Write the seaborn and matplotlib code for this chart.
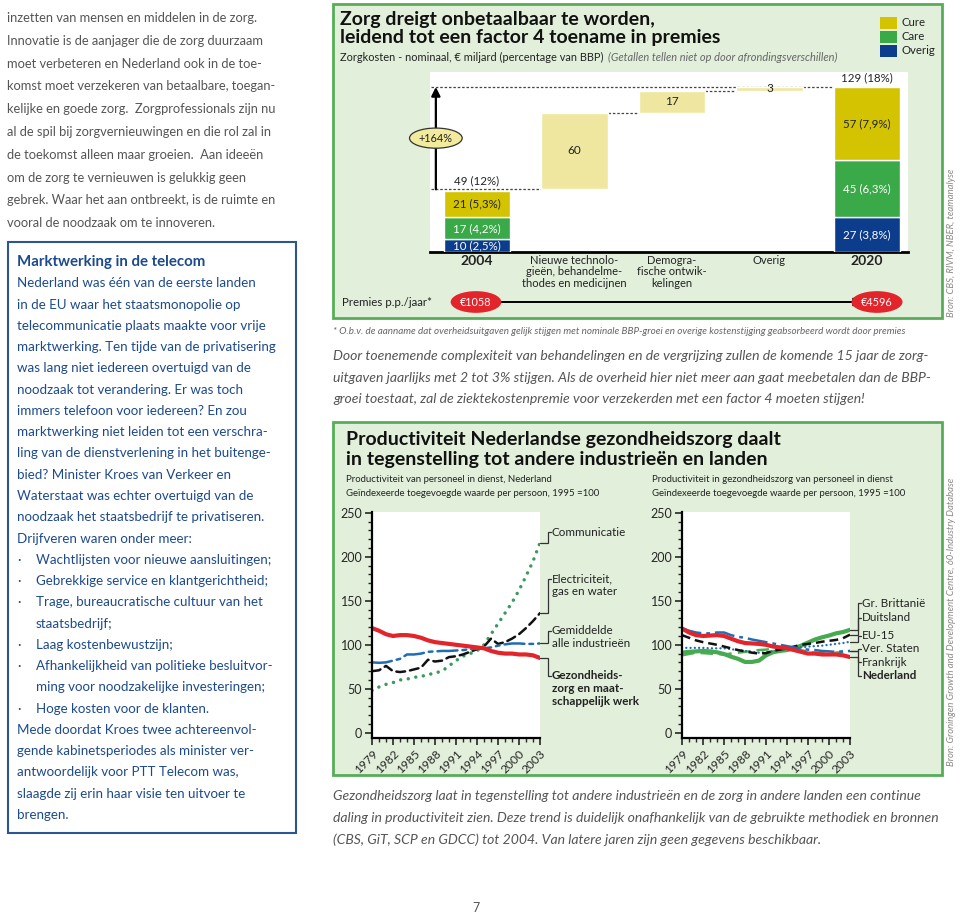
import matplotlib
matplotlib.use("Agg")
import numpy as np
import pandas as pd
import matplotlib.pyplot as plt
from matplotlib.patches import Rectangle
import seaborn as sns

# ---------------- data ----------------
wf_categories = ["2004", "Nieuwe technolo-\ngieën, behandelme-\nthodes en medicijnen",
                 "Demogra-\nfische ontwik-\nkelingen", "Overig", "2020"]
parts = ["Overig", "Care", "Cure"]
start_values = [10, 17, 21]
start_labels = ["10 (2,5%)", "17 (4,2%)", "21 (5,3%)"]
start_total = 49
start_total_label = "49 (12%)"
step_values = [60, 17, 3]
end_values = [27, 45, 57]
end_labels = ["27 (3,8%)", "45 (6,3%)", "57 (7,9%)"]
end_total = 129
end_total_label = "129 (18%)"
growth_label = "+164%"
premium_start = "€1058"
premium_end = "€4596"

years = list(range(1979, 2004))
zorg_nl = [119, 116, 112, 110, 111, 111, 110, 108, 105, 103, 102, 101, 100,
           99, 98, 97, 96, 93, 91, 90, 90, 89, 89, 88, 85]
gemiddelde = [80, 79.5, 80, 82, 84, 89, 89, 90, 92, 92.5, 93, 93, 93.5,
              94, 95, 95.5, 96, 97, 99, 100.5, 101.5, 101.5, 101, 101, 101.5]
electriciteit = [70, 71, 76, 70, 69, 70, 72, 74, 83, 81, 82, 86, 87,
                 89, 92, 95, 98, 107, 101, 103, 107, 112, 119, 127, 136]
communicatie = [48, 52, 55, 57, 60, 61, 63, 64, 66, 68, 70, 76, 82,
                87, 90, 93, 100, 112, 124, 136, 148, 162, 178, 195, 216]

nederland = [118.5, 114, 111, 110, 110.5, 111, 110, 107, 104, 102, 101.5, 101, 100,
             98, 97, 96, 94, 92, 90, 90, 89, 89, 89, 88, 86]
gr_brittannie = [91, 92, 92.5, 93, 92.5, 91.5, 89.5, 86.5, 84, 80.5, 80.5, 82, 88,
                 91.5, 93, 94, 96, 99, 102.5, 106, 108.5, 110.5, 113, 114.5, 117]
duitsland = [111, 108, 105, 103, 101.5, 100, 98, 96, 94, 92.5, 91, 90, 90.5,
             93, 94.5, 96, 98, 100, 101, 102, 103.5, 104.5, 105.5, 107.5, 111.5]
eu15 = [96.5, 96.5, 96.5, 96.5, 96, 96, 96, 95, 94, 93, 92, 91, 91.5,
        93, 94, 95.5, 96.5, 97, 98, 98.5, 99, 100, 101, 102, 103.5]
ver_staten = [119, 116, 114, 113, 113, 114, 114, 111, 109, 108, 106, 104.5, 103,
              101.5, 100, 98.5, 97, 95.5, 94.5, 94, 93, 92.5, 92, 92.5, 93]
frankrijk = [88, 89.5, 91, 90.5, 90, 89.5, 89, 90, 91, 92, 93, 94, 94.5,
             95.5, 96, 96.5, 96, 94, 92, 91, 90.5, 90, 91, 92, 93]

intro_lines = [
    "inzetten van mensen en middelen in de zorg.",
    "Innovatie is de aanjager die de zorg duurzaam",
    "moet verbeteren en Nederland ook in de toe-",
    "komst moet verzekeren van betaalbare, toegan-",
    "kelijke en goede zorg.  Zorgprofessionals zijn nu",
    "al de spil bij zorgvernieuwingen en die rol zal in",
    "de toekomst alleen maar groeien.  Aan ideeën",
    "om de zorg te vernieuwen is gelukkig geen",
    "gebrek. Waar het aan ontbreekt, is de ruimte en",
    "vooral de noodzaak om te innoveren.",
]
box_lines = [
    ("", "Nederland was één van de eerste landen"),
    ("", "in de EU waar het staatsmonopolie op"),
    ("", "telecommunicatie plaats maakte voor vrije"),
    ("", "marktwerking. Ten tijde van de privatisering"),
    ("", "was lang niet iedereen overtuigd van de"),
    ("", "noodzaak tot verandering. Er was toch"),
    ("", "immers telefoon voor iedereen? En zou"),
    ("", "marktwerking niet leiden tot een verschra-"),
    ("", "ling van de dienstverlening in het buitenge-"),
    ("", "bied? Minister Kroes van Verkeer en"),
    ("", "Waterstaat was echter overtuigd van de"),
    ("", "noodzaak het staatsbedrijf te privatiseren."),
    ("", "Drijfveren waren onder meer:"),
    ("·", "Wachtlijsten voor nieuwe aansluitingen;"),
    ("·", "Gebrekkige service en klantgerichtheid;"),
    ("·", "Trage, bureaucratische cultuur van het"),
    (" ", "staatsbedrijf;"),
    ("·", "Laag kostenbewustzijn;"),
    ("·", "Afhankelijkheid van politieke besluitvor-"),
    (" ", "ming voor noodzakelijke investeringen;"),
    ("·", "Hoge kosten voor de klanten."),
    ("", "Mede doordat Kroes twee achtereenvol-"),
    ("", "gende kabinetsperiodes als minister ver-"),
    ("", "antwoordelijk voor PTT Telecom was,"),
    ("", "slaagde zij erin haar visie ten uitvoer te"),
    ("", "brengen."),
]
para_lines = [
    "Door toenemende complexiteit van behandelingen en de vergrijzing zullen de komende 15 jaar de zorg-",
    "uitgaven jaarlijks met 2 tot 3% stijgen. Als de overheid hier niet meer aan gaat meebetalen dan de BBP-",
    "groei toestaat, zal de ziektekostenpremie voor verzekerden met een factor 4 moeten stijgen!",
]
caption_lines = [
    "Gezondheidszorg laat in tegenstelling tot andere industrieën en de zorg in andere landen een continue",
    "daling in productiviteit zien. Deze trend is duidelijk onafhankelijk van de gebruikte methodiek en bronnen",
    "(CBS, GiT, SCP en GDCC) tot 2004. Van latere jaren zijn geen gegevens beschikbaar.",
]

# ---------------- style ----------------
sns.set_theme(style="ticks")
plt.rcParams["font.family"] = ["Lato", "DejaVu Sans"]

W, H = 960, 917
GRAY = "#555555"
BLUE_TXT = "#1d4a8c"
BOX_FILL = "#e2efda"
BOX_EDGE = "#57ad57"
PALE = "#efe7a0"
part_colors = {"Cure": "#d3c300", "Care": "#3aa947", "Overig": "#0c3d8c"}
part_text = {"Cure": "#222222", "Care": "white", "Overig": "white"}
RED = "#e3242b"
TITLE_FS = 14

fig = plt.figure(figsize=(W / 100, H / 100), dpi=100)
page = fig.add_axes([0, 0, 1, 1])
page.set_xlim(0, W)
page.set_ylim(H, 0)
page.axis("off")


def axes_px(x0, y0, x1, y1):
    return fig.add_axes([x0 / W, 1 - y1 / H, (x1 - x0) / W, (y1 - y0) / H])


# ---------------- left column ----------------
for i, line in enumerate(intro_lines):
    page.text(7, 18 + i * 22.8, line, va="center", fontsize=9.3, color=GRAY)

page.add_patch(Rectangle((8, 242), 288, 591, fc="white", ec="#2b5593", lw=1.5))
page.text(17, 262, "Marktwerking in de telecom", va="center", fontsize=10.8,
          fontweight="bold", color=BLUE_TXT)
for i, (bullet, line) in enumerate(box_lines):
    y = 262 + (i + 1) * 21.27
    if bullet:
        page.text(17, y, bullet.strip(), va="center", fontsize=9.6, color=BLUE_TXT)
        page.text(36, y, line, va="center", fontsize=9.6, color=BLUE_TXT)
    else:
        page.text(17, y, line, va="center", fontsize=9.6, color=BLUE_TXT)

# ---------------- top box: waterfall ----------------
page.add_patch(Rectangle((333, 4), 609, 314, fc=BOX_FILL, ec=BOX_EDGE, lw=2))
page.text(340, 20, "Zorg dreigt onbetaalbaar te worden,", va="center",
          fontsize=TITLE_FS, fontweight="bold", color="#111111")
page.text(340, 38, "leidend tot een factor 4 toename in premies", va="center",
          fontsize=TITLE_FS, fontweight="bold", color="#111111")
sub = page.text(340, 57, "Zorgkosten - nominaal, € miljard (percentage van BBP)",
                va="center", fontsize=7.9, color="#222222")
page.annotate("(Getallen tellen niet op door afrondingsverschillen)", xy=(1, 0.5),
              xycoords=sub, xytext=(3, 0), textcoords="offset points", va="center",
              fontsize=7.9, style="italic", color="#666666")

for i, p in enumerate(["Cure", "Care", "Overig"]):
    page.add_patch(Rectangle((880, 17 + i * 14), 17, 12, fc=part_colors[p], ec="none"))
    page.text(902, 23 + i * 14, p, va="center", fontsize=8.2, color="#222222")

page.text(952, 243, "Bron: CBS, RIVM, NBER, teamanalyse", rotation=90, ha="center",
          va="center", fontsize=6.8, style="italic", color="#8a8a8a")

ax = axes_px(430, 72, 908, 252)
ax.set_facecolor("white")
bw = 0.68
xs = np.arange(len(wf_categories))

bottom = 0
for p, v, lab in zip(parts, start_values, start_labels):
    ax.bar(xs[0], v, bottom=bottom, width=bw, color=part_colors[p], zorder=3)
    ax.text(xs[0], bottom + v / 2, lab, ha="center", va="center", fontsize=8.3,
            color=part_text[p], zorder=4)
    bottom += v
ax.text(xs[0], start_total + 2.5, start_total_label, ha="center", va="bottom",
        fontsize=8.3, color="#222222")

level = start_total
levels = [start_total]
for i, v in enumerate(step_values):
    ax.bar(xs[i + 1], v, bottom=level, width=bw, color=PALE, zorder=3)
    ax.text(xs[i + 1], level + v / 2, str(v), ha="center", va="center",
            fontsize=8.5, color="#222222", zorder=4)
    level += v
    levels.append(level)

bottom = 0
for p, v, lab in zip(parts, end_values, end_labels):
    ax.bar(xs[4], v, bottom=bottom, width=bw, color=part_colors[p], zorder=3)
    ax.text(xs[4], bottom + v / 2, lab, ha="center", va="center", fontsize=8.3,
            color=part_text[p], zorder=4)
    bottom += v
ax.text(xs[4], end_total + 2.5, end_total_label, ha="center", va="bottom",
        fontsize=8.3, color="#222222")

dot = dict(color="#444444", lw=0.9, linestyle=(0, (2, 1.5)), zorder=2)
ax.plot([-0.47, xs[1] - bw / 2], [levels[0]] * 2, **dot)
ax.plot([xs[1] + bw / 2, xs[2] - bw / 2], [levels[1]] * 2, **dot)
ax.plot([xs[2] + bw / 2, xs[3] - bw / 2], [levels[2]] * 2, **dot)
ax.plot([-0.47, xs[4] - bw / 2], [levels[3]] * 2, **dot)

ax.annotate("", xy=(-0.42, end_total), xytext=(-0.42, start_total),
            arrowprops=dict(arrowstyle="-|>", color="black", lw=1.6,
                            mutation_scale=13, shrinkA=0, shrinkB=0))
ax.text(-0.42, 89, growth_label, ha="center", va="center", fontsize=7.8,
        color="#222222", zorder=5,
        bbox=dict(boxstyle="ellipse,pad=0.15", fc="#f2ea9c", ec="#333333", lw=0.9))

ax.set_xlim(-0.48, 4.42)
ax.set_ylim(0, 140.7)
ax.set_yticks([])
ax.set_xticks(xs)
ax.set_xticklabels(wf_categories, fontsize=8, linespacing=1.05, color="#222222")
for t in ax.get_xticklabels():
    if t.get_text() in ("2004", "2020"):
        t.set_fontweight("bold")
        t.set_fontsize(10)
ax.tick_params(axis="x", length=0, pad=2)
for s in ["top", "right", "left"]:
    ax.spines[s].set_visible(False)
ax.spines["bottom"].set_linewidth(2)
ax.spines["bottom"].set_color("black")

page.text(342, 302, "Premies p.p./jaar*", va="center", fontsize=8.3, color="#222222")
page.annotate("", xy=(862, 302), xytext=(497, 302),
              arrowprops=dict(arrowstyle="-|>", color="black", lw=1.4,
                              mutation_scale=12, shrinkA=0, shrinkB=0))
for x, lab in [(476, premium_start), (877, premium_end)]:
    page.text(x, 302, lab, ha="center", va="center", fontsize=7.8, color="white",
              bbox=dict(boxstyle="ellipse,pad=0.2", fc=RED, ec="none"))

page.text(333, 331, "* O.b.v. de aanname dat overheidsuitgaven gelijk stijgen met nominale "
          "BBP-groei en overige kostenstijging geabsorbeerd wordt door premies",
          va="center", fontsize=7.1, style="italic", color="#666666")
for i, line in enumerate(para_lines):
    page.text(333, 356 + i * 21.5, line, va="center", fontsize=10.1,
              style="italic", color=GRAY)

# ---------------- bottom box: line charts ----------------
page.add_patch(Rectangle((333, 422), 609, 353, fc=BOX_FILL, ec=BOX_EDGE, lw=2))
page.text(346, 440, "Productiviteit Nederlandse gezondheidszorg daalt", va="center",
          fontsize=TITLE_FS, fontweight="bold", color="#111111")
page.text(346, 459, "in tegenstelling tot andere industrieën en landen", va="center",
          fontsize=TITLE_FS, fontweight="bold", color="#111111")
page.text(346, 480, "Productiviteit van personeel in dienst, Nederland", va="center",
          fontsize=6.9, color="#222222")
page.text(346, 493, "Geïndexeerde toegevoegde waarde per persoon, 1995 =100", va="center",
          fontsize=6.9, color="#222222")
page.text(652, 480, "Productiviteit in gezondheidszorg van personeel in dienst", va="center",
          fontsize=6.9, color="#222222")
page.text(652, 493, "Geïndexeerde toegevoegde waarde per persoon, 1995 =100", va="center",
          fontsize=6.9, color="#222222")
page.text(952, 622, "Bron: Groningen Growth and Development Centre, 60-Industry Database",
          rotation=90, ha="center", va="center", fontsize=6.8, style="italic",
          color="#8a8a8a")


def style_line_axes(a):
    a.set_facecolor("white")
    a.set_xlim(1979, 2003)
    a.set_ylim(-6, 251)
    a.set_yticks(range(0, 251, 50))
    a.set_yticks(range(0, 251, 10), minor=True)
    a.set_xticks(range(1979, 2004, 3))
    a.set_xticks(range(1979, 2004), minor=True)
    a.set_xticklabels([str(y) for y in range(1979, 2004, 3)], rotation=45,
                      ha="right", rotation_mode="anchor", fontsize=8.6)
    a.tick_params(axis="y", labelsize=9, length=5, width=1.2, pad=2)
    a.tick_params(axis="x", length=5, width=1.2, pad=2)
    a.tick_params(which="minor", length=3, width=1)
    for s in ["top", "right"]:
        a.spines[s].set_visible(False)
    for s in ["left", "bottom"]:
        a.spines[s].set_linewidth(1.6)
        a.spines[s].set_color("black")
    a.set_xlabel("")
    a.set_ylabel("")


def bracket(a, y_end, y_label, lines, bold=False, step=14.8):
    a.plot([2003, 2004.2, 2004.2, 2004.55], [y_end, y_end, y_label, y_label],
           color="#333333", lw=0.9, clip_on=False, solid_joinstyle="miter")
    for k, line in enumerate(lines):
        a.text(2004.7, y_label - k * step, line, va="center", fontsize=8.4,
               fontweight="bold" if bold else "normal", color="#222222", clip_on=False)


axl = axes_px(372, 512, 540, 738)
left_series = [
    (communicatie, "#3a9a5c", 2.5, (0, (0.01, 2.2))),
    (electriciteit, "#111111", 1.8, (0, (3.5, 2))),
    (gemiddelde, "#1f6db3", 1.8, (0, (8, 2, 1.5, 2))),
    (zorg_nl, RED, 3.0, "-"),
]
for vals, col, lw, ls in left_series:
    sns.lineplot(x=years, y=vals, ax=axl, color=col, linewidth=lw, linestyle=ls,
                 errorbar=None, legend=False, dash_capstyle="round")
style_line_axes(axl)
bracket(axl, communicatie[-1], 228, ["Communicatie"])
bracket(axl, electriciteit[-1], 175, ["Electriciteit,", "gas en water"])
bracket(axl, gemiddelde[-1], 116, ["Gemiddelde", "alle industrieën"])
bracket(axl, zorg_nl[-1], 65, ["Gezondheids-", "zorg en maat-", "schappelijk werk"], bold=True)

axr = axes_px(682, 512, 850, 738)
right_series = [
    (frankrijk, "#4fae57", 1.8, (0, (5, 2.5)), "butt"),
    (gr_brittannie, "#46aa4f", 3.0, "-", "butt"),
    (eu15, "#1f6db3", 1.7, (0, (0.01, 1.8)), "round"),
    (duitsland, "#111111", 1.8, (0, (3.5, 2)), "butt"),
    (ver_staten, "#1f6db3", 1.8, (0, (8, 2, 1.5, 2)), "butt"),
    (nederland, RED, 3.0, "-", "butt"),
]
for vals, col, lw, ls, cap in right_series:
    sns.lineplot(x=years, y=vals, ax=axr, color=col, linewidth=lw, linestyle=ls,
                 errorbar=None, legend=False, dash_capstyle=cap)
style_line_axes(axr)
bracket(axr, gr_brittannie[-1], 147, ["Gr. Brittanië"])
bracket(axr, duitsland[-1], 131, ["Duitsland"])
bracket(axr, eu15[-1], 110, ["EU-15"])
bracket(axr, ver_staten[-1], 95.5, ["Ver. Staten"])
bracket(axr, frankrijk[-1], 80, ["Frankrijk"])
bracket(axr, nederland[-1], 65, ["Nederland"], bold=True)

for i, line in enumerate(caption_lines):
    page.text(333, 796 + i * 22, line, va="center", fontsize=10.1,
              style="italic", color=GRAY)
page.text(476, 908, "7", ha="center", va="center", fontsize=9, color=GRAY)

fig.savefig("out.png", dpi=100)
